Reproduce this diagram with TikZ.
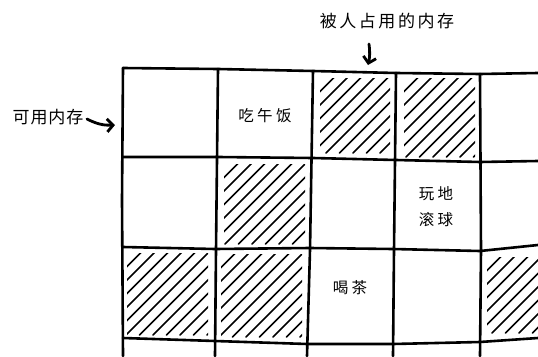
\documentclass[tikz,border=0pt]{standalone}
\usepackage{fontspec}
\newfontfamily\cjktop[LetterSpace=15]{Noto Sans CJK SC}
\newfontfamily\cjkleft[LetterSpace=5]{Noto Sans CJK SC}
\newfontfamily\cjkcell[LetterSpace=22]{Noto Sans CJK SC}
\usetikzlibrary{arrows.meta}
\tikzset{
  gridline/.style={line width=2.6pt, line cap=round, line join=round, black},
  hatchline/.style={line width=1.7pt, line cap=round, black},
  toplabel/.style={font=\cjktop\fontsize{17}{20}\selectfont, inner sep=0pt},
  leftlabel/.style={font=\cjkleft\fontsize{17}{20}\selectfont, inner sep=0pt},
  celltext/.style={font=\cjkcell\fontsize{15.5}{26}\selectfont, inner sep=0pt, align=center},
  pointer/.style={line width=2.8pt, line cap=round, -{Straight Barb[length=6pt,width=13pt,line width=2.8pt]}}
}
\newcommand\hatchcell[4]{%
  \begin{scope}
    \clip (#1,#2) rectangle (#3,#4);
    \foreach \k in {1,...,14}{\draw[hatchline] ({#1+#2+\k*13.5-#4},#4) -- ++(200,-200);}
  \end{scope}}
\begin{document}
\begin{tikzpicture}[x=1pt,y=-1pt]
\useasboundingbox (0,0) rectangle (538,356);
\fill[white] (0,0) rectangle (538,356);
% hatching
\hatchcell{320}{78}{390}{153}
\hatchcell{404}{78}{475}{157}
\hatchcell{224}{164}{305}{244}
\hatchcell{127}{253}{208}{335}
\hatchcell{221}{254}{302}{337}
\hatchcell{487}{257}{538}{333}
% grid: horizontal
\draw[gridline] (123,68) -- (218,69) -- (313,71) -- (396,73) -- (480,74) -- (538,73);
\draw[gridline] (123,157) -- (218,157) -- (313,158) -- (396,160) -- (480,162) -- (538,161);
\draw[gridline] (123,247) -- (215,249) -- (310,248) -- (393,249) -- (480,251) -- (538,245);
\draw[gridline] (123,338) -- (215,341) -- (307,344) -- (393,344) -- (480,342) -- (538,338);
% grid: vertical
\draw[gridline] (123,68) -- (122,200) -- (123,356);
\draw[gridline] (218,69) -- (216,250) -- (215,356);
\draw[gridline] (313,71) -- (310,250) -- (307,356);
\draw[gridline] (396,73) -- (394,250) -- (393,356);
\draw[gridline] (480,74) -- (481,250) -- (480,356);
% labels
\node[toplabel] (used) at (387,21) {被人占用的内存};
\node[leftlabel] (avail) at (48,117) {可用内存};
\coordinate (usedtail) at (369,44);
\coordinate (usedtip) at (368,65);
\coordinate (availtail) at (87,119);
\coordinate (availtip) at (115,125);
\draw[pointer] (usedtail) to[bend left=10] (usedtip);
\draw[pointer] (availtail) to[bend right=15] (availtip);
% cell texts
\node[celltext] (lunch) at (265,116) {吃午饭};
\node[celltext] (bowls) at (436,207) {玩地\\滚球};
\node[celltext] (tea) at (350,288) {喝茶};
\end{tikzpicture}
\end{document}
